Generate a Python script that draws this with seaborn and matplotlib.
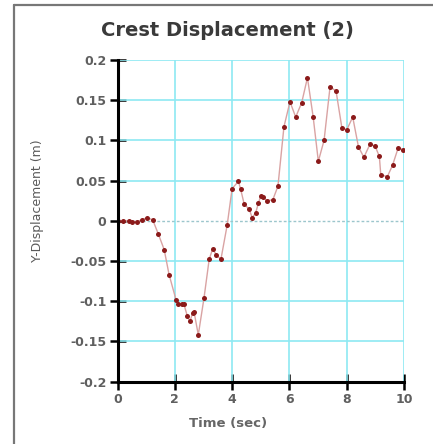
import matplotlib
matplotlib.use("Agg")
import matplotlib.pyplot as plt
import seaborn as sns
import pandas as pd
from matplotlib.lines import Line2D

time_sec = [0.0, 0.2, 0.4, 0.5, 0.67, 0.84, 1.04, 1.23, 1.43, 1.63, 1.8, 2.04, 2.12,
            2.24, 2.32, 2.44, 2.53, 2.62, 2.67, 2.82, 3.02, 3.2, 3.32, 3.44, 3.61,
            3.83, 4.0, 4.22, 4.3, 4.42, 4.6, 4.7, 4.82, 4.92, 5.0, 5.09, 5.21, 5.42,
            5.6, 5.81, 6.02, 6.22, 6.43, 6.63, 6.83, 7.01, 7.21, 7.42, 7.63, 7.83,
            8.0, 8.21, 8.41, 8.6, 8.81, 8.99, 9.14, 9.19, 9.42, 9.6, 9.8, 9.98]
y_disp = [0.0, 0.0, 0.0, -0.001, -0.001, 0.001, 0.004, 0.001, -0.017, -0.036, -0.067,
          -0.098, -0.103, -0.104, -0.104, -0.119, -0.125, -0.115, -0.113, -0.142,
          -0.096, -0.048, -0.035, -0.042, -0.048, -0.005, 0.040, 0.049, 0.039, 0.021,
          0.014, 0.004, 0.0095, 0.022, 0.031, 0.030, 0.025, 0.026, 0.043, 0.117,
          0.148, 0.129, 0.147, 0.178, 0.129, 0.074, 0.100, 0.167, 0.161, 0.116,
          0.113, 0.129, 0.092, 0.079, 0.095, 0.093, 0.080, 0.057, 0.055, 0.069,
          0.091, 0.088]
x_ticks = [0, 2, 4, 6, 8, 10]
y_ticks = [-0.2, -0.15, -0.1, -0.05, 0, 0.05, 0.1, 0.15, 0.2]
y_tick_labels = ["-0.2", "-0.15", "-0.1", "-0.05", "0", "0.05", "0.1", "0.15", "0.2"]

df = pd.DataFrame({"t": time_sec, "y": y_disp})

sns.set_style("white")
plt.rcParams["font.family"] = ["DejaVu Sans"]

fig = plt.figure(figsize=(4.33, 4.44), dpi=100)
ax = fig.add_axes([117.5 / 433, 1 - 381.5 / 444, (404 - 117.5) / 433, (381.5 - 60) / 444])

sns.lineplot(data=df, x="t", y="y", ax=ax, color="#d9a3a3", linewidth=1.0,
             marker="o", markersize=3.6, markerfacecolor="#8b1a1a",
             markeredgecolor="#8b1a1a", markeredgewidth=0, zorder=3)

ax.set_xlim(0, 10)
ax.set_ylim(-0.2, 0.2)
ax.set_xticks(x_ticks)
ax.set_xticklabels([str(v) for v in x_ticks])
ax.set_yticks(y_ticks)
ax.set_yticklabels(y_tick_labels)

grid_color = "#8ee9f2"
for xv in x_ticks[1:]:
    ax.axvline(xv, color=grid_color, linewidth=1.2, zorder=1)
for yv in y_ticks[1:]:
    if yv == 0:
        ax.axhline(yv, color="#9cc6cc", linewidth=1.0, linestyle=(0, (2, 1.5)), zorder=1)
    else:
        ax.axhline(yv, color=grid_color, linewidth=1.2, zorder=1)

for s in ["top", "right"]:
    ax.spines[s].set_visible(False)
for s in ["left", "bottom"]:
    ax.spines[s].set_linewidth(2.2)
    ax.spines[s].set_color("black")
    ax.spines[s].set_zorder(4)

ax.tick_params(axis="both", which="major", bottom=True, left=True, direction="inout",
               length=12, width=1.8, color="black", labelcolor="#5f5f5f", labelsize=9)
ax.tick_params(axis="y", pad=2)
ax.tick_params(axis="x", pad=2)
for lab in ax.get_xticklabels() + ax.get_yticklabels():
    lab.set_fontweight("bold")

ax.set_xlabel("")
ax.set_ylabel("")
fig.text(227 / 433, 1 - 31 / 444, "Crest Displacement (2)", ha="center", va="center",
         fontsize=14, fontweight="bold", color="#3a3a3a")
fig.text(228 / 433, 1 - 423 / 444, "Time (sec)", ha="center", va="center",
         fontsize=9.5, fontweight="bold", color="#666666")
fig.text(37 / 433, 1 - 201 / 444, "Y-Displacement (m)", ha="center", va="center",
         fontsize=9, color="#5a5a5a", rotation=90)

fig.add_artist(Line2D([14 / 433, 14 / 433], [0, 1 - 5 / 444], transform=fig.transFigure,
                      color="#777777", linewidth=1.6))
fig.add_artist(Line2D([14 / 433, 1], [1 - 5 / 444, 1 - 5 / 444], transform=fig.transFigure,
                      color="#777777", linewidth=1.6))

fig.savefig("out.png", dpi=100)
